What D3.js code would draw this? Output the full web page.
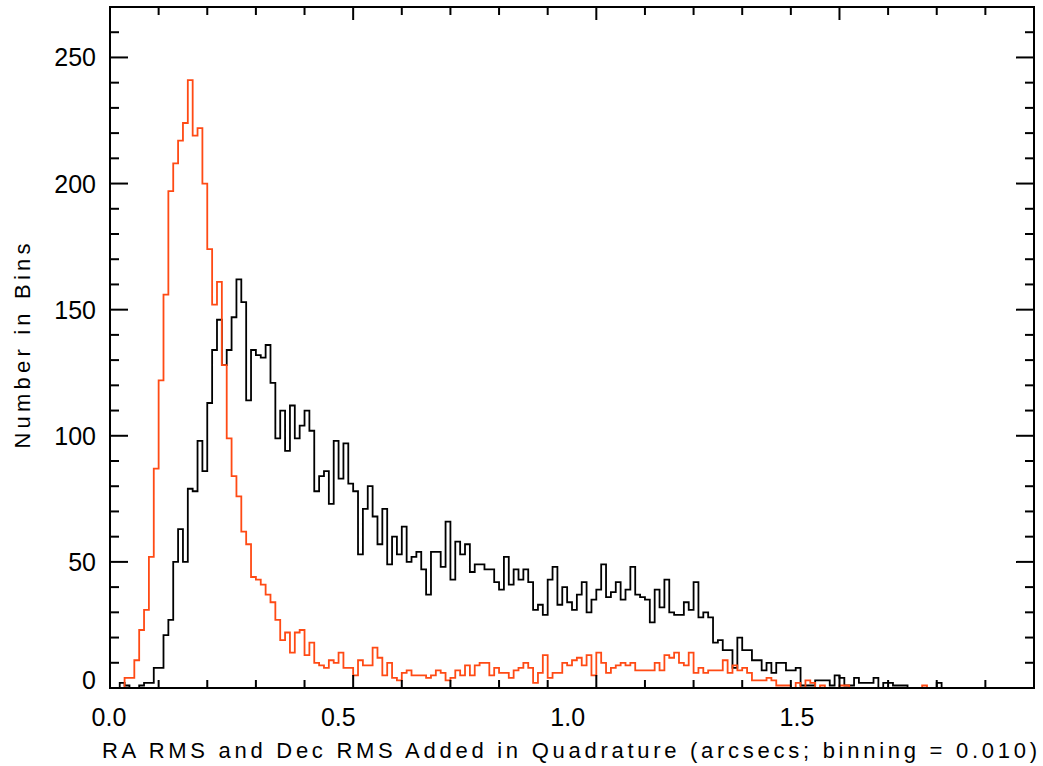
<!DOCTYPE html>
<html><head><meta charset="utf-8">
<script src="https://cdn.jsdelivr.net/npm/d3@7"></script>
<style>
body{margin:0;background:#fff;}
svg text{font-family:"Liberation Sans",Arial,sans-serif;fill:#000;}
</style></head>
<body><svg id="chart" width="1043" height="766"></svg>
<script>
const binWidth = 0.01;
// Counts per 0.01 bin, starting at 0.00
const blackCounts = [0,0,2,1,0,0,1,2,2,8,8,21,27,50,63,50,79,78,98,86,113,134,146,128,134,147,162,153,114,134,132,131,136,121,99,110,94,112,99,104,110,102,78,84,86,73,98,83,97,81,78,53,71,80,68,57,71,49,60,53,64,50,52,54,47,37,54,54,48,66,43,58,53,57,46,49,49,47,47,42,39,52,41,47,43,47,42,31,33,29,43,48,33,40,34,31,37,42,30,35,39,49,36,38,42,35,39,48,37,36,35,26,39,32,43,30,29,29,34,31,42,28,30,28,18,19,15,15,8,20,15,15,11,11,7,10,6,10,10,7,7,8,1,1,1,3,3,3,1,5,4,1,1,4,2,2,2,4,0,2,2,1,1,1,0,0,0,0,0,0,2,0];
const redCounts = [0,0,0,4,4,11,23,31,52,87,122,156,197,208,217,224,241,219,222,200,174,152,161,128,99,84,76,62,57,44,43,41,37,34,27,19,22,14,22,23,13,18,10,9,8,11,10,14,8,8,5,11,9,9,16,12,5,10,4,3,6,7,5,5,5,4,5,7,6,3,4,7,5,9,5,9,10,10,5,8,6,6,4,7,8,10,8,2,6,13,4,6,6,10,9,11,12,9,13,5,14,10,6,8,9,10,9,10,7,7,7,7,10,7,13,12,14,10,9,14,6,8,6,7,7,7,11,6,9,7,8,6,3,3,3,4,3,1,1,1,0,2,0,3,2,0,1,0,0,0,1,1,0,0,0,0,0,0,0,0,0,0,0,0,0,0,0,1,0];
const xMajorTicks = [0.0, 0.5, 1.0, 1.5];
const xTickLabels = ["0.0", "0.5", "1.0", "1.5"];
const yMajorTicks = [0, 50, 100, 150, 200, 250];
const yTickLabels = ["0", "50", "100", "150", "200", "250"];
const xTitle = "RA RMS and Dec RMS Added in Quadrature (arcsecs; binning = 0.010)";
const yTitle = "Number in Bins";

const svg = d3.select("#chart");
const L = 110, R = 1034, T = 7, B = 688;
const x = d3.scaleLinear().domain([0, 1.9]).range([L, R]);
const y = d3.scaleLinear().domain([0, 270]).range([B, T]);
// the original's tick labels sit on a slightly compressed spacing
const xLab = d3.scaleLinear().domain([0, 1.5]).range([L - 1, 797]);

const xMinor = d3.range(0, 1.9001, 0.1);
const yMinor = d3.range(0, 270.001, 10);

function histPoints(counts) {
  const pts = [];
  counts.forEach((c, i) => pts.push([i * binWidth, c]));
  pts.push([counts.length * binWidth, counts[counts.length - 1]]);
  return pts;
}
const line = d3.line().x(d => x(d[0])).y(d => y(d[1])).curve(d3.curveStepAfter);

svg.append("path").attr("d", line(histPoints(blackCounts)))
  .attr("fill", "none").attr("stroke", "#000").attr("stroke-width", 1.8);
svg.append("path").attr("d", line(histPoints(redCounts)))
  .attr("fill", "none").attr("stroke", "#ff4a14").attr("stroke-width", 1.8);

// frame
svg.append("rect").attr("x", L).attr("y", T).attr("width", R - L).attr("height", B - T)
  .attr("fill", "none").attr("stroke", "#000").attr("stroke-width", 2);

const g = svg.append("g").attr("stroke", "#000").attr("stroke-width", 2);
const isMajorX = v => xMajorTicks.some(m => Math.abs(m - v) < 1e-6);
xMinor.forEach(v => {
  const len = isMajorX(v) ? 13 : 8;
  g.append("line").attr("x1", x(v)).attr("x2", x(v)).attr("y1", B).attr("y2", B - len);
  g.append("line").attr("x1", x(v)).attr("x2", x(v)).attr("y1", T).attr("y2", T + len);
});
yMinor.forEach(v => {
  const len = (v % 50 === 0) ? 18 : 9;
  g.append("line").attr("x1", L).attr("x2", L + len).attr("y1", y(v)).attr("y2", y(v));
  g.append("line").attr("x1", R).attr("x2", R - len).attr("y1", y(v)).attr("y2", y(v));
});

svg.selectAll(".xl").data(xMajorTicks).enter().append("text")
  .attr("x", d => xLab(d)).attr("y", 726).attr("text-anchor", "middle")
  .attr("font-size", 25).text((d, i) => xTickLabels[i]);
svg.selectAll(".yl").data(yMajorTicks).enter().append("text")
  .attr("x", 96).attr("y", d => y(d) + (d === 0 ? 1 : 9)).attr("text-anchor", "end")
  .attr("font-size", 25).text((d, i) => yTickLabels[i]);

svg.append("text").attr("x", 102).attr("y", 758).attr("font-size", 22)
  .attr("textLength", 935).attr("lengthAdjust", "spacing").text(xTitle);
svg.append("text").attr("transform", "translate(30,346) rotate(-90)")
  .attr("text-anchor", "middle").attr("font-size", 22)
  .attr("textLength", 205).attr("lengthAdjust", "spacing").text(yTitle);
</script></body></html>
